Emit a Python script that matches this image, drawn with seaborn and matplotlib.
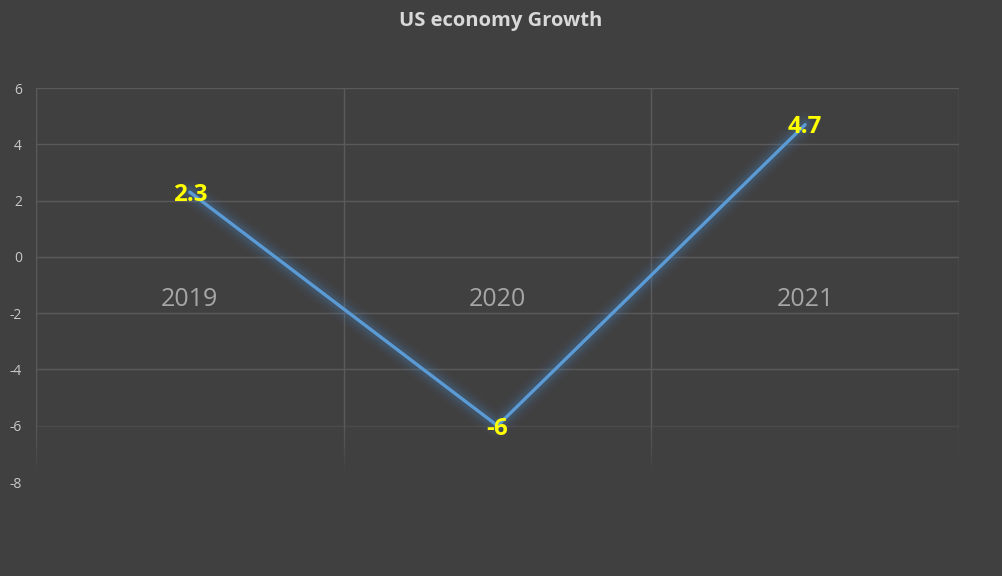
import numpy as np
import pandas as pd
import matplotlib
matplotlib.use("Agg")
import matplotlib.pyplot as plt
import seaborn as sns

years = ["2019", "2020", "2021"]
growth = [2.3, -6, 4.7]
yticks = [6, 4, 2, 0, -2, -4, -6, -8]

sns.set_theme(style="dark")
plt.rcParams['font.family'] = ['Open Sans', 'DejaVu Sans']

bg = "#404040"
grid = "#5a5a5a"
fig = plt.figure(figsize=(10.02, 5.76), dpi=100, facecolor=bg)
ax = fig.add_axes([36/1002, 1-482/576, (959-36)/1002, (482-88)/576])
ax.set_facecolor(bg)
for s in ax.spines.values():
    s.set_visible(False)

ax.set_xlim(-0.5, 2.5)
ax.set_ylim(-8, 6)

# horizontal gridlines
for yv in yticks:
    if yv == -8:
        continue
    a = 1.0 if yv > -6 else 0.45
    ax.axhline(yv, color=grid, lw=1, alpha=a, zorder=0)

# vertical gridlines with fading bottom
xs = [-0.5, 0.5, 1.5, 2.5]
for xv in xs:
    ax.plot([xv, xv], [6, -6], color=grid, lw=1, zorder=0)
    seg = np.linspace(-6, -7.6, 12)
    for i in range(len(seg) - 1):
        ax.plot([xv, xv], [seg[i], seg[i+1]], color=grid, lw=1,
                alpha=1 - (i + 1) / len(seg), zorder=0)

df = pd.DataFrame({"year": years, "growth": growth})

# glow
for w, a in [(18, 0.04), (14, 0.06), (10, 0.08), (7, 0.12)]:
    sns.lineplot(data=df, x="year", y="growth", ax=ax, color="#4a8ccc",
                 lw=w, alpha=a, sort=False, solid_capstyle="round", zorder=2)
sns.lineplot(data=df, x="year", y="growth", ax=ax, color="#5b9bd5",
             lw=2.4, sort=False, zorder=3)

ax.set_xlim(-0.5, 2.5)
ax.set_ylim(-8, 6)
ax.set_xlabel("")
ax.set_ylabel("")
ax.set_xticks([])
ax.set_yticks(yticks)
ax.set_yticklabels([str(t) for t in yticks], color="#c8c8c8", fontsize=10)
ax.tick_params(axis="y", length=0, pad=10)
for lbl in ax.get_yticklabels():
    lbl.set_horizontalalignment("right")

# category labels near zero line
for i, y in enumerate(years):
    ax.text(i, -1.5, y, ha="center", va="center", color="#a6a6a6", fontsize=18)

# data labels
for i, v in enumerate(growth):
    ax.text(i, v - 0.1, f"{v:g}", ha="center", va="center", color="#ffff00",
            fontsize=17.5, fontweight="bold", zorder=5)

fig.text(0.5, 1-21/576, "US economy Growth", ha="center", va="center",
         color="#d9d9d9", fontsize=14.5, fontweight="bold")

fig.savefig("out.png", dpi=100, facecolor=bg)
